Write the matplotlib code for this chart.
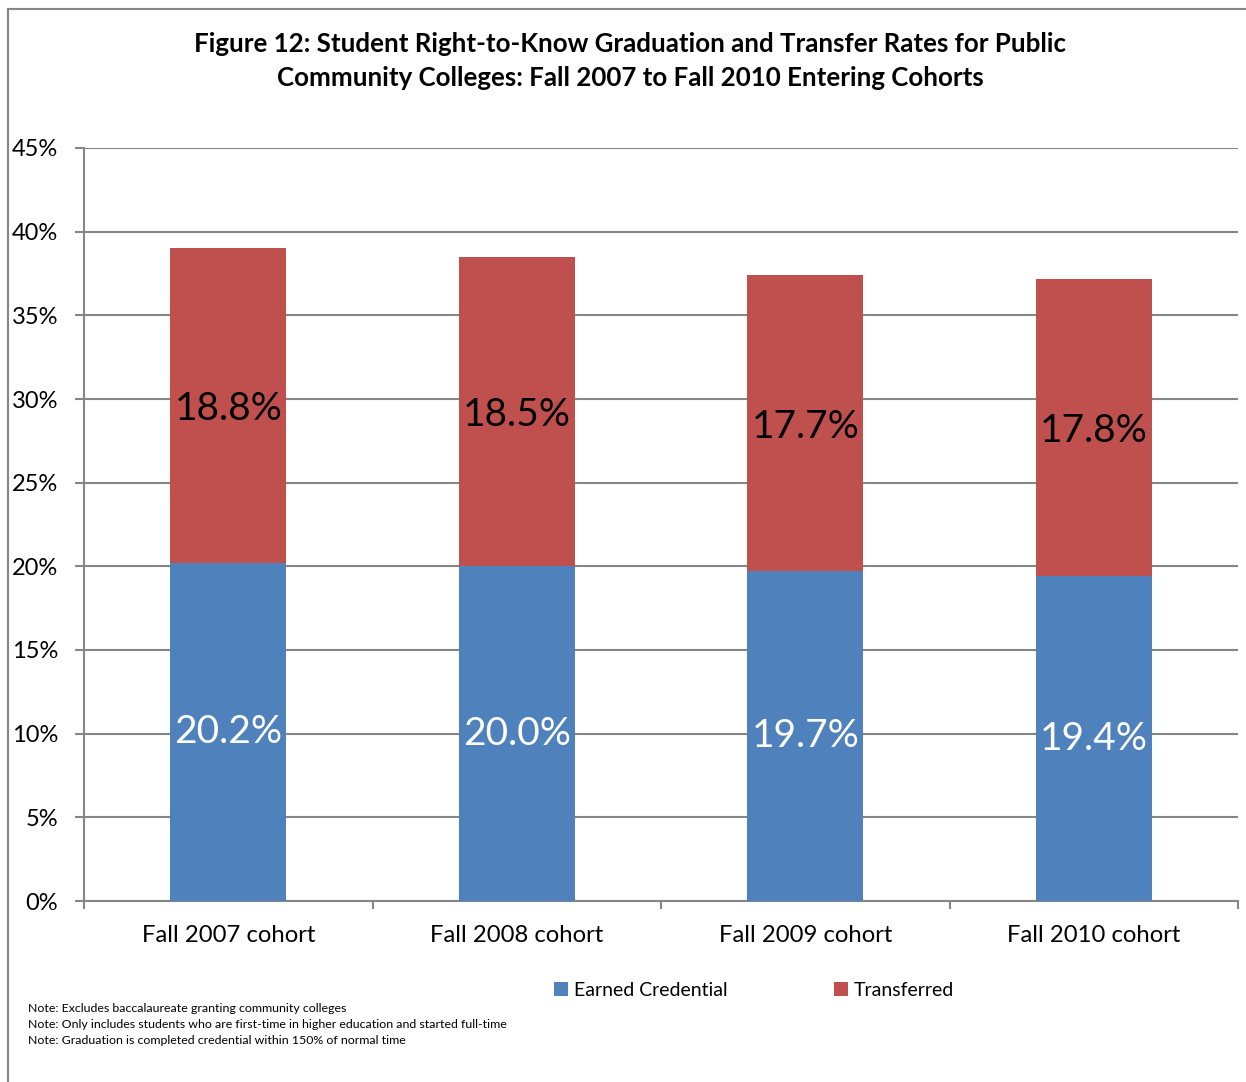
import matplotlib
matplotlib.use("Agg")
import matplotlib.pyplot as plt
from matplotlib.lines import Line2D
from matplotlib.ticker import MultipleLocator, FuncFormatter
import numpy as np

categories = ["Fall 2007 cohort", "Fall 2008 cohort", "Fall 2009 cohort", "Fall 2010 cohort"]
earned = [20.2, 20.0, 19.7, 19.4]
transferred = [18.8, 18.5, 17.7, 17.8]
series_names = ["Earned Credential", "Transferred"]
title = ("Figure 12: Student Right-to-Know Graduation and Transfer Rates for Public\n"
         "Community Colleges: Fall 2007 to Fall 2010 Entering Cohorts")
notes = ["Note: Excludes baccalaureate granting community colleges",
         "Note: Only includes students who are first-time in higher education and started full-time",
         "Note: Graduation is completed credential within 150% of normal time"]

plt.rcParams['font.family'] = ['Lato', 'DejaVu Sans']

W, H = 1246, 1082
fig = plt.figure(figsize=(W / 100, H / 100), dpi=100)
ax = fig.add_axes([84 / W, 1 - 901 / H, 1154 / W, 753 / H])

x = np.arange(len(categories))
blue = "#4F81BD"
red = "#C0504D"
bw = 0.402
b1 = ax.bar(x, earned, bw, color=blue, label=series_names[0], zorder=3)
b2 = ax.bar(x, transferred, bw, bottom=earned, color=red, label=series_names[1], zorder=3)

for i in range(len(categories)):
    ax.text(x[i], earned[i] / 2, f"{earned[i]:.1f}%", ha="center", va="center",
            color="white", fontsize=28, zorder=4)
    ax.text(x[i], earned[i] + transferred[i] / 2 - 0.2, f"{transferred[i]:.1f}%", ha="center",
            va="center", color="black", fontsize=28, zorder=4)

ax.set_xlim(-0.5, len(categories) - 0.5)
ax.set_ylim(0, 45)
ax.yaxis.set_major_locator(MultipleLocator(5))
ax.yaxis.set_major_formatter(FuncFormatter(lambda v, p: f"{v:.0f}%"))
ax.grid(axis="y", color="#868686", linewidth=1.5, zorder=0)
ax.set_axisbelow(True)

ax.set_xticks(x)
ax.set_xticklabels(categories, fontsize=17.2)
ax.tick_params(axis="x", length=0, pad=17)
ax.set_xticks(np.arange(-0.5, len(categories)), minor=True)
ax.tick_params(axis="x", which="minor", length=6, width=1.5, color="#868686", direction="out")
ax.tick_params(axis="y", length=6.5, width=1.5, color="#868686", labelsize=17, pad=12)

for s in ["top", "right"]:
    ax.spines[s].set_visible(False)
for s in ["left", "bottom"]:
    ax.spines[s].set_color("#868686")
    ax.spines[s].set_linewidth(1.5)

fig.text(630 / W, 1 - 61 / H, title, ha="center", va="center", fontsize=18.6,
         fontweight="bold", linespacing=1.5)

leg = fig.legend(handles=[b1, b2], labels=series_names, loc="center",
                 bbox_to_anchor=(754 / W, 1 - 990 / H), ncol=2, frameon=False,
                 fontsize=14, handlelength=0.7, handleheight=0.7, handletextpad=0.3,
                 columnspacing=5.5)

for i, n in enumerate(notes):
    fig.text(28 / W, 1 - (1008 + 16 * i) / H, n, ha="left", va="center", fontsize=8.9)

fig.add_artist(Line2D([8 / W, 8 / W], [0, 1 - 9 / H], color="#868686", lw=1.5,
                      transform=fig.transFigure))
fig.add_artist(Line2D([8 / W, 1], [1 - 9 / H, 1 - 9 / H], color="#868686", lw=1.5,
                      transform=fig.transFigure))

fig.savefig("out.png", dpi=100, facecolor="white")
